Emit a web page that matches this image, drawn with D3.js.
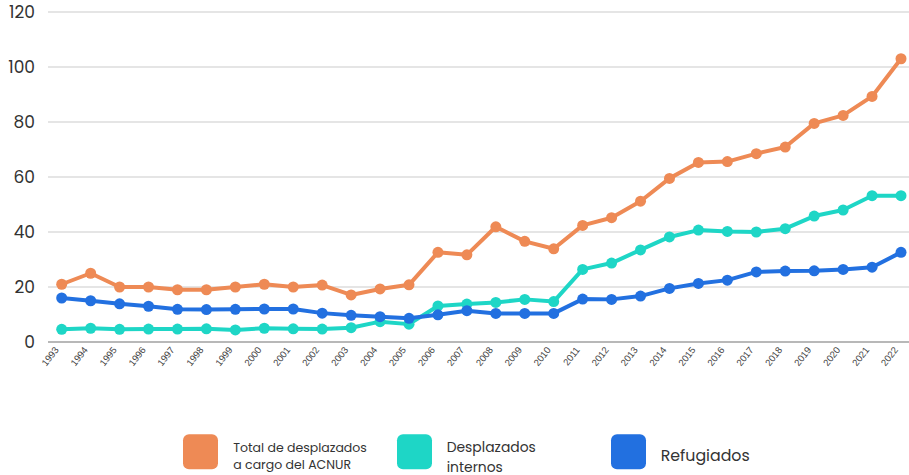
<!DOCTYPE html>
<html><head><meta charset="utf-8">
<script src="https://cdn.jsdelivr.net/npm/d3@7"></script>
<style>body{margin:0;background:#fff;} svg{display:block;}</style>
</head><body>
<svg id="c" width="909" height="475"></svg>
<script>
const years = ["1993","1994","1995","1996","1997","1998","1999","2000","2001","2002","2003","2004","2005","2006","2007","2008","2009","2010","2011","2012","2013","2014","2015","2016","2017","2018","2019","2020","2021","2022"];
const totalAcnur = [21.0,25.0,20.0,20.0,19.0,19.0,20.0,21.0,20.0,20.7,17.1,19.3,20.8,32.6,31.7,41.9,36.6,33.9,42.4,45.2,51.2,59.5,65.3,65.6,68.5,70.9,79.5,82.4,89.3,103.0];
const internos = [4.6,5.0,4.6,4.7,4.7,4.8,4.4,5.0,4.8,4.7,5.2,7.4,6.5,13.1,13.8,14.4,15.5,14.7,26.4,28.7,33.5,38.2,40.7,40.2,40.0,41.2,45.8,48.0,53.2,53.2];
const refugiados = [16.0,15.0,13.9,13.0,11.9,11.8,11.9,12.0,12.0,10.5,9.7,9.2,8.6,9.9,11.4,10.4,10.4,10.4,15.6,15.5,16.7,19.5,21.3,22.5,25.5,25.8,25.9,26.4,27.2,32.6];
const yTicks = [0,20,40,60,80,100,120];
const seriesNames = [["Total de desplazados","a cargo del ACNUR"],["Desplazados","internos"],["Refugiados"]];
const colors = ["#EE8A55","#1ED6C6","#2270E0"];

const svg = d3.select("#c");
const font = "Poppins, 'Noto Sans', Lato, sans-serif";
const x = d3.scalePoint().domain(years).range([61.7, 901]);
const y = d3.scaleLinear().domain([0,120]).range([342, 12]);

svg.append("g").selectAll("line").data(yTicks.filter(d=>d>0)).join("line")
  .attr("x1",48).attr("x2",909).attr("y1",d=>y(d)).attr("y2",d=>y(d))
  .attr("stroke","#dcdcdc").attr("stroke-width",1.5);
svg.append("g").selectAll("text").data(yTicks).join("text")
  .attr("x",35).attr("y",d=>y(d)).attr("dy","0.35em").attr("text-anchor","end")
  .attr("font-family",font).attr("font-size",17).attr("fill","#333")
  .text(d=>d);
svg.append("line").attr("x1",48).attr("x2",909).attr("y1",y(0)).attr("y2",y(0))
  .attr("stroke","#b8b8b8").attr("stroke-width",2);
svg.append("g").selectAll("text").data(years).join("text")
  .attr("transform",d=>`translate(${x(d)-5},${y(0)+6}) rotate(-52)`)
  .attr("text-anchor","end").attr("dy","0.35em")
  .attr("font-family","'Liberation Sans', Arial, sans-serif").attr("font-size",9.5).attr("fill","#444")
  .text(d=>d);

const data = [totalAcnur, internos, refugiados];
const line = d3.line().x((d,i)=>x(years[i])).y(d=>y(d));
data.forEach((vals,k)=>{
  const g = svg.append("g");
  g.append("path").attr("d",line(vals)).attr("fill","none")
    .attr("stroke",colors[k]).attr("stroke-width",4).attr("stroke-linejoin","round");
  g.selectAll("circle").data(vals).join("circle")
    .attr("cx",(d,i)=>x(years[i])).attr("cy",d=>y(d)).attr("r",5.5).attr("fill",colors[k]);
});

const leg = [
  {sx:183, tx:233.3, fs:12.5, lines:[451.7,468.5]},
  {sx:397, tx:446.7, fs:13.9, lines:[452.3,471.5]},
  {sx:611, tx:660.7, fs:15.8, lines:[461]}
];
leg.forEach((L,k)=>{
  svg.append("rect").attr("x",L.sx).attr("y",434.3).attr("width",35).attr("height",35)
    .attr("rx",6).attr("fill",colors[k]);
  const t = svg.append("text").attr("font-family",font).attr("font-size",L.fs).attr("fill","#333");
  seriesNames[k].forEach((s,j)=>{
    t.append("tspan").attr("x",L.tx).attr("y",L.lines[j]).text(s);
  });
});
</script>
</body></html>
